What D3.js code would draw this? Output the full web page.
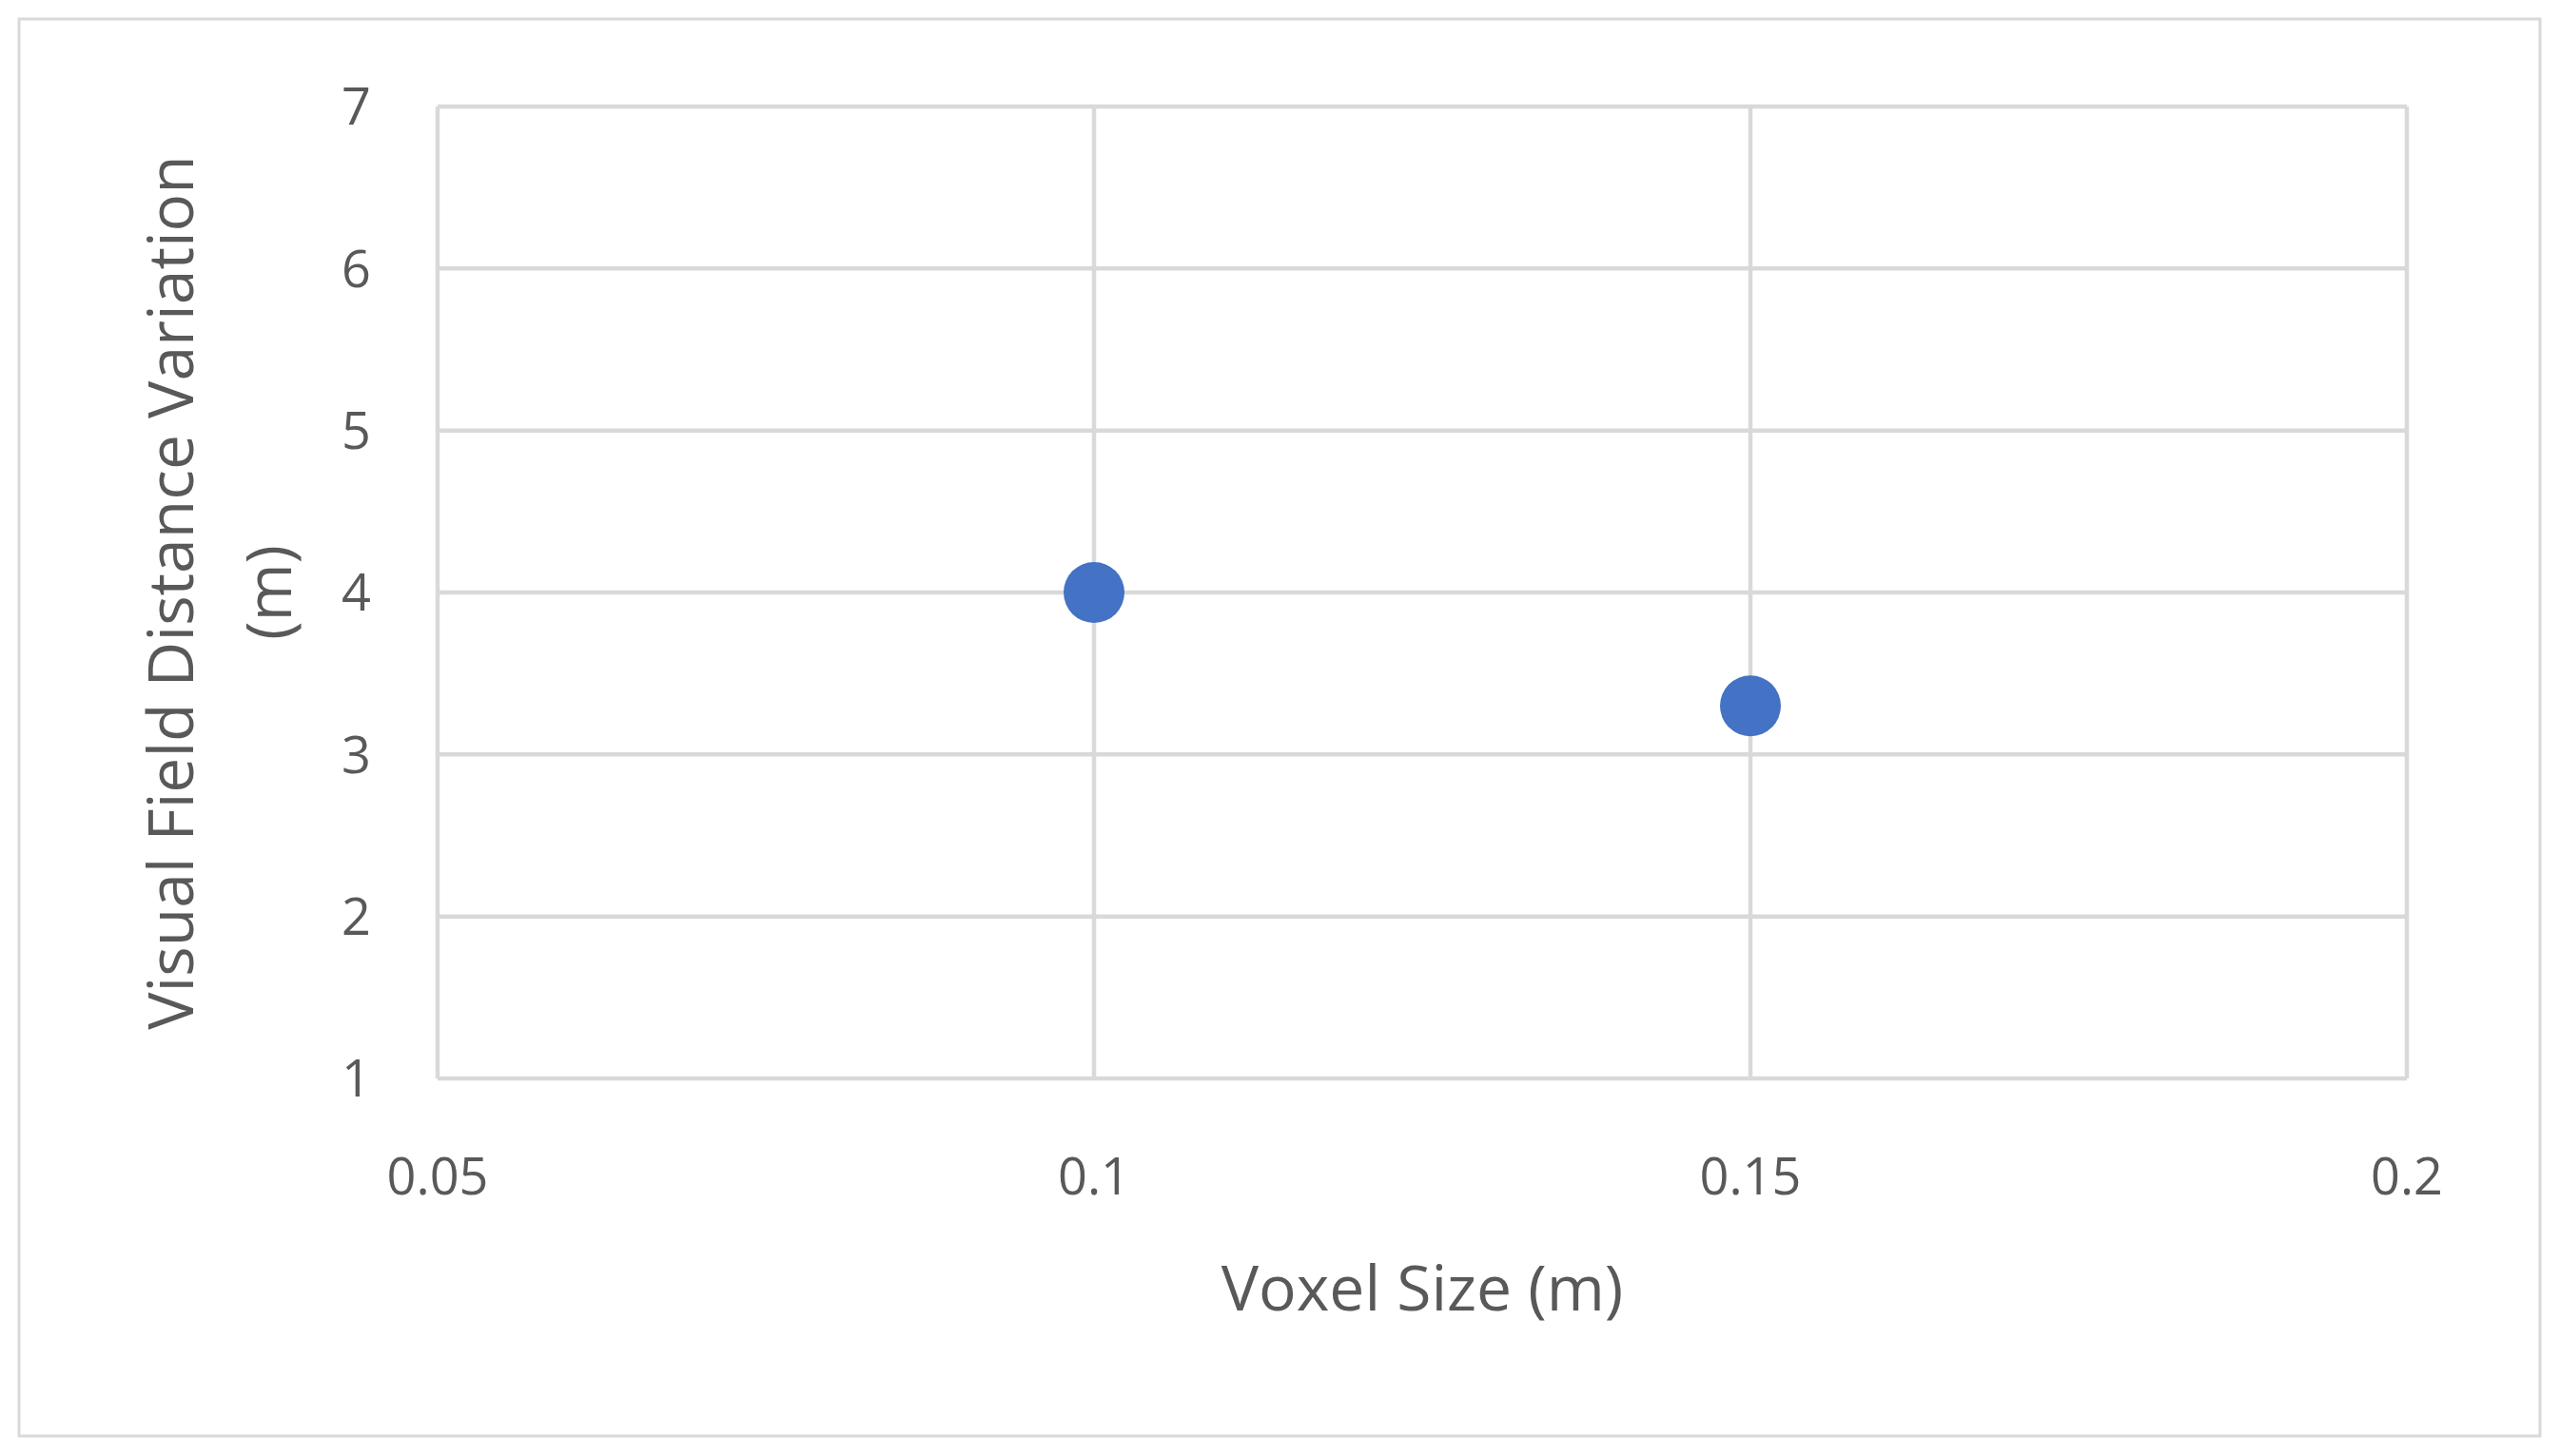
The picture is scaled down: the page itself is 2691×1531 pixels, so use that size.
<!DOCTYPE html>
<html>
<head>
<meta charset="utf-8">
<script src="https://cdn.jsdelivr.net/npm/d3@7"></script>
<style>
  body { margin: 0; background: #fff; }
  text { font-family: "Open Sans", Lato, sans-serif; fill: #595959; }
</style>
</head>
<body>
<svg id="chart" width="2691" height="1531"></svg>
<script>
// data
var voxelSize = [0.1, 0.15];
var distanceVariation = [4.0, 3.3];
var xTicks = [0.05, 0.1, 0.15, 0.2];
var yTicks = [1, 2, 3, 4, 5, 6, 7];

var svg = d3.select("#chart");
var plotLeft = 460, plotRight = 2530, plotTop = 112, plotBottom = 1134;

// outer frame
svg.append("rect")
  .attr("x", 20).attr("y", 20)
  .attr("width", 2650).attr("height", 1490)
  .attr("fill", "#fff").attr("stroke", "#d9d9d9").attr("stroke-width", 3);

var x = d3.scaleLinear().domain([0.05, 0.2]).range([plotLeft, plotRight]);
var y = d3.scaleLinear().domain([1, 7]).range([plotBottom, plotTop]);

// gridlines
svg.selectAll(".hgrid").data(yTicks).enter().append("line")
  .attr("x1", plotLeft).attr("x2", plotRight)
  .attr("y1", function(d) { return y(d); }).attr("y2", function(d) { return y(d); })
  .attr("stroke", "#d9d9d9").attr("stroke-width", 4.5);
svg.selectAll(".vgrid").data(xTicks).enter().append("line")
  .attr("y1", plotTop).attr("y2", plotBottom)
  .attr("x1", function(d) { return x(d); }).attr("x2", function(d) { return x(d); })
  .attr("stroke", "#d9d9d9").attr("stroke-width", 4.5);

// tick labels
svg.selectAll(".ylab").data(yTicks).enter().append("text")
  .attr("x", 390).attr("y", function(d) { return y(d); })
  .attr("dy", "0.36em").attr("text-anchor", "end")
  .attr("font-size", 54).text(function(d) { return d; });
svg.selectAll(".xlab").data(xTicks).enter().append("text")
  .attr("x", function(d) { return x(d); }).attr("y", 1256)
  .attr("text-anchor", "middle")
  .attr("font-size", 54).text(function(d) { return d; });

// axis titles
svg.append("text").attr("x", x(0.125)).attr("y", 1378)
  .attr("text-anchor", "middle").attr("font-size", 66).text("Voxel Size (m)");
var yt = svg.append("text").attr("transform", "translate(203," + y(4) + ") rotate(-90)")
  .attr("text-anchor", "middle").attr("font-size", 66);
yt.append("tspan").attr("x", 0).attr("dy", 0).text("Visual Field Distance Variation");
yt.append("tspan").attr("x", 0).attr("dy", 103).text("(m)");

// points
svg.selectAll(".pt").data(voxelSize).enter().append("circle")
  .attr("cx", function(d) { return x(d); })
  .attr("cy", function(d, i) { return y(distanceVariation[i]); })
  .attr("r", 32).attr("fill", "#4472c4");
</script>
</body>
</html>
